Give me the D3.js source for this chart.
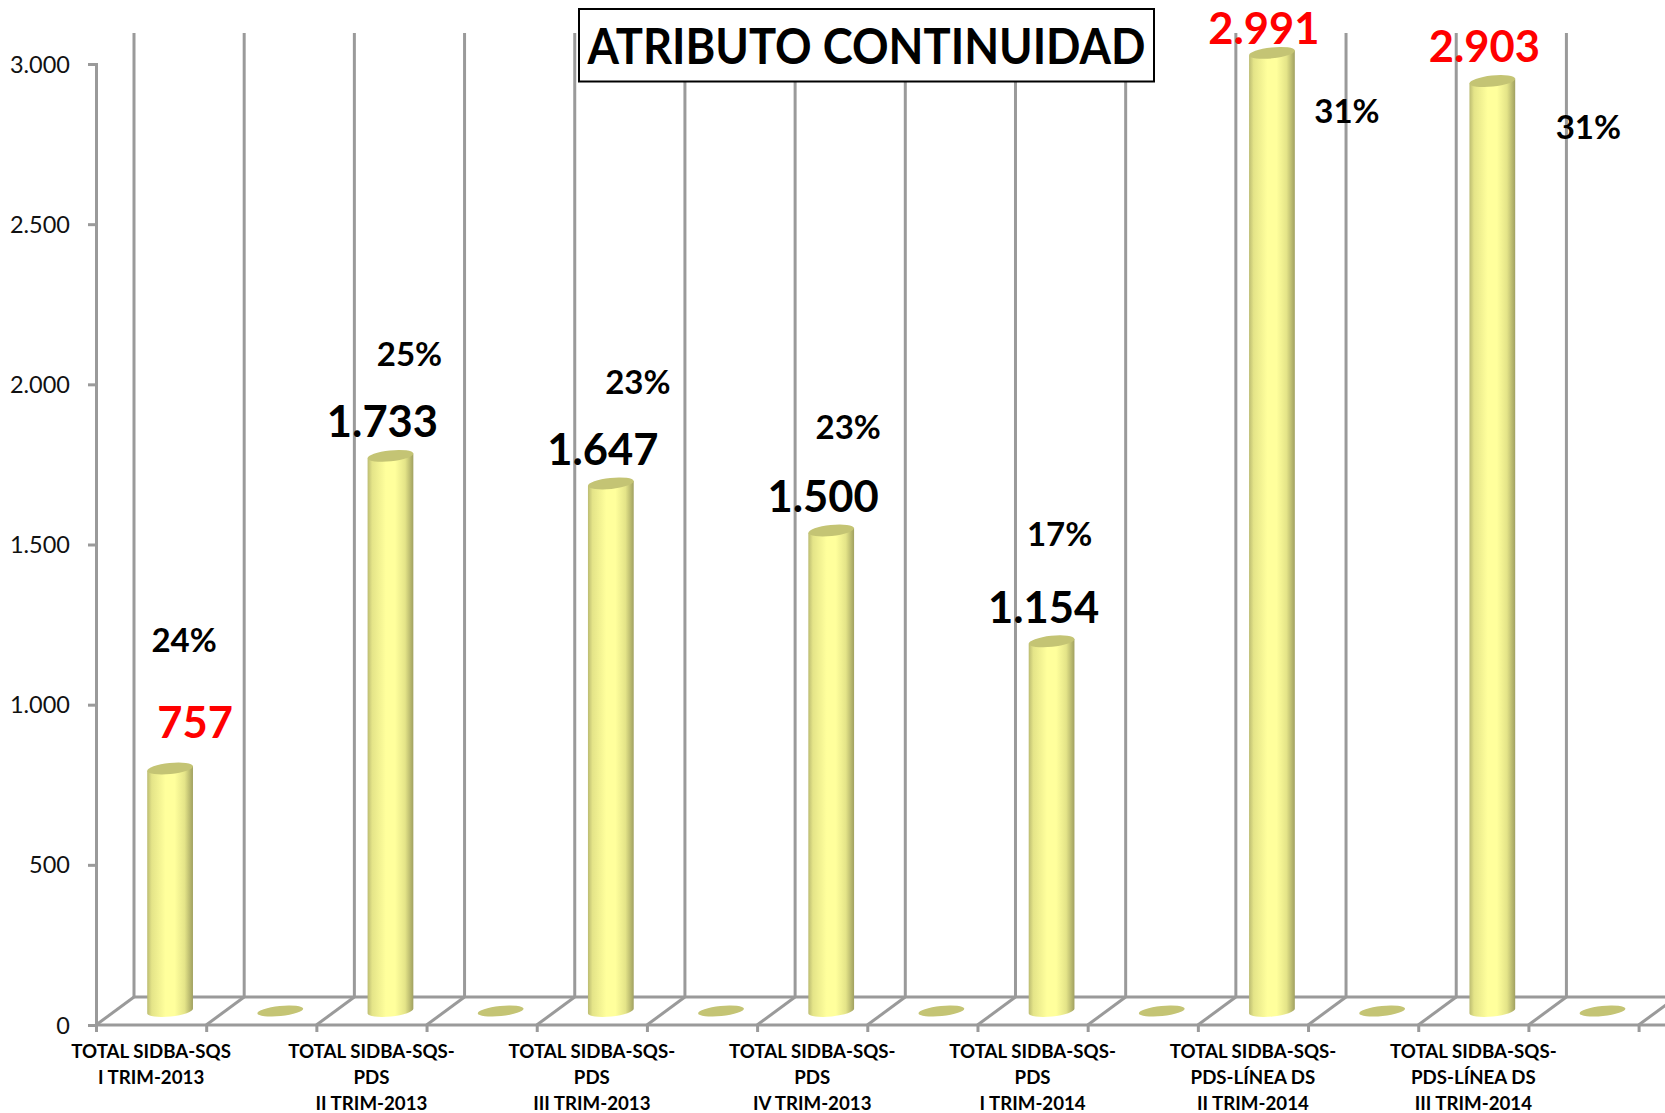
<!DOCTYPE html>
<html><head><meta charset="utf-8">
<script src="https://cdn.jsdelivr.net/npm/d3@7"></script>
<style>html,body{margin:0;padding:0;background:#fff}svg{display:block}text{font-family:Lato,"Open Sans",sans-serif}</style>
</head><body><div id="c"></div>
<script>
const categories = [
  ["TOTAL SIDBA-SQS","I TRIM-2013"],
  ["TOTAL SIDBA-SQS-","PDS","II TRIM-2013"],
  ["TOTAL SIDBA-SQS-","PDS","III TRIM-2013"],
  ["TOTAL SIDBA-SQS-","PDS","IV TRIM-2013"],
  ["TOTAL SIDBA-SQS-","PDS","I TRIM-2014"],
  ["TOTAL SIDBA-SQS-","PDS-LÍNEA DS","II TRIM-2014"],
  ["TOTAL SIDBA-SQS-","PDS-LÍNEA DS","III TRIM-2014"]
];
const values = [757,1733,1647,1500,1154,2991,2903];
const secondSeries = [0,0,0,0,0,0,0];
const percents = ["24%","25%","23%","23%","17%","31%","31%"];
const labelColors = ["#ff0000","#000","#000","#000","#000","#ff0000","#ff0000"];
const yTicks = [0,500,1000,1500,2000,2500,3000];
const title = "ATRIBUTO CONTINUIDAD";

// layout (hand placement of the labels, as in the reference)
const W=1665,H=1113;
const valueOffsets=[[25,-48],[-8,-36],[-8,-35],[-8,-36],[-8,-35],[-8,-26],[-8,-36]];
const pctOffsets=[[14,-130],[19,-103],[27,-102],[17,-105],[8,-108],[75,57],[96,45]];

const y=d3.scaleLinear().domain([0,3000]).range([1025,64]);
const x=d3.scaleLinear().domain([0,14]).range([96,1638.6]);
const depth=[38,28];             // back wall offset
const mid=[19,14];               // plane where the cylinders stand
const rx=23, ry=5.5, tilt=-6;

const svg=d3.select("#c").append("svg").attr("width",W).attr("height",H);
const defs=svg.append("defs");
const g=defs.append("linearGradient").attr("id","cyl");
[[0,"#bcbc72"],[.1,"#e4e488"],[.4,"#ffff9c"],[.6,"#ffff9c"],[.82,"#e4e488"],[1,"#a0a060"]]
  .forEach(s=>g.append("stop").attr("offset",s[0]).attr("stop-color",s[1]));

const grey="#9a9a9a";
const sw=3;
const walls=d3.range(0,15);
// back wall verticals, floor diagonals
svg.append("g").selectAll("line").data(walls).join("line")
  .attr("x1",d=>x(d)+depth[0]).attr("x2",d=>x(d)+depth[0])
  .attr("y1",33).attr("y2",y(0)-depth[1])
  .attr("stroke",grey).attr("stroke-width",sw);
svg.append("g").selectAll("line").data(walls).join("line")
  .attr("x1",d=>x(d)).attr("x2",d=>x(d)+depth[0])
  .attr("y1",y(0)).attr("y2",y(0)-depth[1])
  .attr("stroke",grey).attr("stroke-width",sw);
svg.append("line").attr("x1",x(0)+depth[0]).attr("x2",W).attr("y1",y(0)-depth[1]).attr("y2",y(0)-depth[1]).attr("stroke",grey).attr("stroke-width",sw);

// axes
const fmt=d3.formatLocale({decimal:",",thousands:".",grouping:[3],currency:["",""]}).format(",d");
const ay=svg.append("g").attr("transform",`translate(${x(0)},0)`)
  .call(d3.axisLeft(y).tickValues(yTicks).tickFormat(fmt).tickSize(8).tickPadding(18));
ay.selectAll("line,path").attr("stroke",grey).attr("stroke-width",sw);
ay.selectAll("text").attr("font-size",23.5).attr("fill","#111").attr("dy","0.34em");
const ax=svg.append("g").attr("transform",`translate(0,${y(0)})`)
  .call(d3.axisBottom(x).tickValues(walls).tickFormat("").tickSize(7).tickSizeOuter(0));
ax.selectAll("line,path").attr("stroke",grey).attr("stroke-width",sw);
ax.select("path").attr("d",`M${x(0)},0H${W}`);

// category labels
const cat=svg.append("g").selectAll("text").data(categories).join("text")
  .attr("text-anchor","middle").attr("font-size",18.7).attr("font-weight",700).attr("fill","#000")
  .attr("transform",(d,i)=>`translate(${x(i*2+0.5)},1058)`);
cat.selectAll("tspan").data(d=>d).join("tspan").attr("x",0).attr("dy",(d,i)=>i?26:0).text(d=>d);

// second series: zero-height discs
const base=v=>y(v)-mid[1];
const barX=i=>x(i*2+0.5)+mid[0];
svg.append("g").selectAll("ellipse").data(secondSeries).join("ellipse")
  .attr("cx",(d,i)=>x(i*2+1.5)+mid[0]).attr("cy",d=>base(d))
  .attr("rx",rx).attr("ry",ry-0.5).attr("fill","#c4c474")
  .attr("transform",(d,i)=>`rotate(${tilt} ${x(i*2+1.5)+mid[0]} ${base(d)})`);

// cylinders
const bars=svg.append("g").selectAll("g").data(values).join("g");
const dx=rx*Math.cos(tilt*Math.PI/180), dy=rx*Math.sin(tilt*Math.PI/180);
bars.append("path").attr("fill","url(#cyl)").attr("d",(d,i)=>{
  const c=barX(i), t=base(d), b=base(0);
  return `M${c-dx},${t-dy}L${c-dx},${b-dy}A${rx},${ry} ${tilt} 0 0 ${c+dx},${b+dy}L${c+dx},${t+dy}Z`;
});
bars.append("ellipse").attr("cx",(d,i)=>barX(i)).attr("cy",d=>base(d))
  .attr("rx",rx).attr("ry",ry).attr("fill","#c4c474")
  .attr("transform",(d,i)=>`rotate(${tilt} ${barX(i)} ${base(d)})`);

// title
const tg=svg.append("g");
tg.append("rect").attr("x",579).attr("y",9).attr("width",575).attr("height",72.5)
  .attr("fill","#fff").attr("stroke","#000").attr("stroke-width",2);
tg.append("text").attr("x",866.5).attr("y",63.5).attr("text-anchor","middle")
  .attr("font-size",50).attr("font-weight",700).attr("fill","#000")
  .attr("textLength",558).attr("lengthAdjust","spacingAndGlyphs").text(title);

// value + percent labels
svg.append("g").selectAll("text").data(values).join("text")
  .attr("x",(d,i)=>barX(i)+valueOffsets[i][0]).attr("y",(d,i)=>base(d)+valueOffsets[i][1])
  .attr("text-anchor","middle").attr("dominant-baseline","central")
  .attr("font-size",43.5).attr("font-weight",700).attr("fill",(d,i)=>labelColors[i])
  .text(d=>fmt(d));
svg.append("g").selectAll("text").data(percents).join("text")
  .attr("x",(d,i)=>barX(i)+pctOffsets[i][0]).attr("y",(d,i)=>base(values[i])+pctOffsets[i][1])
  .attr("text-anchor","middle").attr("dominant-baseline","central")
  .attr("font-size",33).attr("font-weight",700).attr("fill","#000").text(d=>d);
</script></body></html>
